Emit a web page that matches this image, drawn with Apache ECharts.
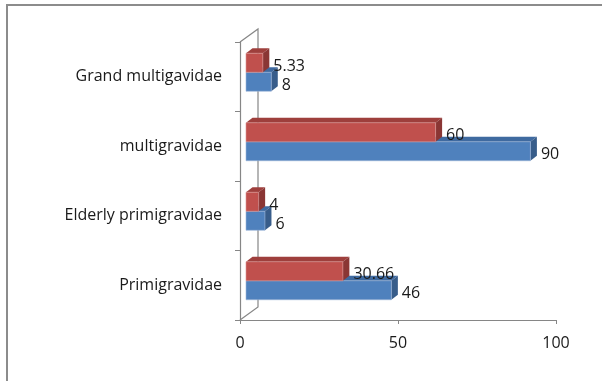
<!DOCTYPE html>
<html>
<head>
<meta charset="utf-8">
<script src="https://cdn.jsdelivr.net/npm/echarts@6/dist/echarts.min.js"></script>
<style>
  html, body { margin: 0; padding: 0; background: #ffffff; }
  #chart { width: 602px; height: 381px; }
</style>
</head>
<body>
<div id="chart"></div>
<script>
// Categories, bottom to top
const categories = ['Primigravidae', 'Elderly primigravidae', 'multigravidae', 'Grand multigavidae'];
// Front (blue) and back (red) series values
const blueValues = [46, 6, 90, 8];
const redValues = [30.66, 4, 60, 5.33];
// Value axis ticks
const xTicks = [0, 50, 100];

const FONT = '"Open Sans"';
const FONT_SIZE = 16;
const AXIS_GREY = '#868686';

// 3D look: front face offset from the axis plane, and depth of each block
const FRONT_DX = 6, FRONT_DY = -4.5;
const SIDE_DX = 6.5, SIDE_DY = -5;
const BAR_H = 19;
// Depth of the back wall / floor
const WALL_DX = 18, WALL_DY = -13;

const palettes = {
  blue: { front: '#4F81BD', top: '#3F6AA0', side: '#385D8A', edge: '#9DB6D8' },
  red:  { front: '#C0504D', top: '#9E3F3C', side: '#8A3634', edge: '#D99694' }
};

function barRenderer(pal, slot) {
  // slot 0 = lower block (blue), slot 1 = upper block (red)
  return function (params, api) {
    const cat = api.value(0);
    const val = api.value(1);
    const c0 = api.coord([0, cat]);
    const cv = api.coord([val, cat]);
    const top = c0[1] + FRONT_DY - (slot === 1 ? BAR_H : 0);
    const bottom = top + BAR_H;
    const left = c0[0] + FRONT_DX;
    const right = cv[0] + FRONT_DX;
    return {
      type: 'group',
      children: [
        {
          type: 'polygon',
          shape: { points: [[left, top], [right, top], [right + SIDE_DX, top + SIDE_DY], [left + SIDE_DX, top + SIDE_DY]] },
          style: { fill: pal.top }
        },
        {
          type: 'polygon',
          shape: { points: [[right, top], [right + SIDE_DX, top + SIDE_DY], [right + SIDE_DX, bottom + SIDE_DY], [right, bottom]] },
          style: { fill: pal.side }
        },
        {
          type: 'rect',
          shape: { x: left, y: top, width: right - left, height: BAR_H },
          style: { fill: pal.front, stroke: pal.edge, lineWidth: 0.6 }
        },
        {
          type: 'text',
          style: {
            text: String(val),
            x: right + SIDE_DX + 4,
            y: (top + bottom) / 2 + 3.5,
            align: 'left',
            verticalAlign: 'middle',
            fill: '#1a1a1a',
            font: FONT_SIZE + 'px ' + FONT
          }
        }
      ]
    };
  };
}

function wallRenderer(params, api) {
  const n = categories.length;
  const band = api.size([0, 1])[1];
  const x0 = api.coord([0, 0])[0];
  const yBottom = api.coord([0, 0])[1] + band / 2;
  const yTop = api.coord([0, n - 1])[1] - band / 2;
  return {
    type: 'polyline',
    shape: { points: [[x0, yTop], [x0 + WALL_DX, yTop + WALL_DY], [x0 + WALL_DX, yBottom + WALL_DY], [x0, yBottom]] },
    style: { stroke: AXIS_GREY, lineWidth: 1.2, fill: null }
  };
}

const chart = echarts.init(document.getElementById('chart'), null, { renderer: 'canvas' });

chart.setOption({
  backgroundColor: '#ffffff',
  animation: false,
  graphic: [{
    type: 'rect',
    shape: { x: 7, y: 5, width: 700, height: 500 },
    style: { fill: null, stroke: '#8c8c8c', lineWidth: 2 },
    silent: true
  }],
  grid: { left: 240, top: 42, width: 316, bottom: 61 },
  xAxis: {
    type: 'value',
    min: xTicks[0],
    max: xTicks[xTicks.length - 1],
    interval: xTicks[1] - xTicks[0],
    axisLine: { show: true, lineStyle: { color: AXIS_GREY, width: 1.2 } },
    axisTick: { show: true, length: 4, lineStyle: { color: AXIS_GREY } },
    splitLine: { show: false },
    axisLabel: { color: '#1a1a1a', fontFamily: FONT, fontSize: FONT_SIZE, margin: 15 }
  },
  yAxis: {
    type: 'category',
    data: categories,
    boundaryGap: true,
    axisLine: { show: true, lineStyle: { color: AXIS_GREY, width: 1.2 } },
    axisTick: { show: true, length: 5, lineStyle: { color: AXIS_GREY } },
    axisLabel: { color: '#1a1a1a', fontFamily: FONT, fontSize: FONT_SIZE, margin: 18, lineHeight: 18, padding: [9, 0, 0, 0] }
  },
  series: [
    {
      type: 'custom',
      name: 'wall',
      renderItem: wallRenderer,
      data: [[0, 0]],
      encode: { x: 0, y: 1 },
      silent: true,
      z: 1
    },
    {
      type: 'custom',
      name: 'Series 1',
      renderItem: barRenderer(palettes.blue, 0),
      data: blueValues.map((v, i) => [i, v]),
      encode: { x: 1, y: 0 },
      z: 2
    },
    {
      type: 'custom',
      name: 'Series 2',
      renderItem: barRenderer(palettes.red, 1),
      data: redValues.map((v, i) => [i, v]),
      encode: { x: 1, y: 0 },
      z: 3
    }
  ]
});
</script>
</body>
</html>
